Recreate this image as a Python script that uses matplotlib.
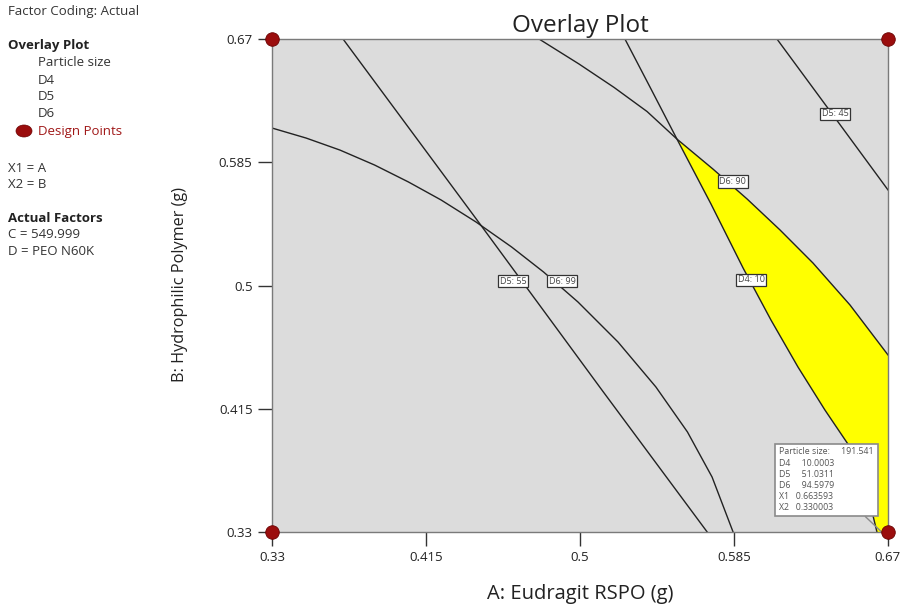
import matplotlib
matplotlib.use("Agg")
import matplotlib.pyplot as plt
from matplotlib.patches import Polygon, Ellipse

plt.rcParams.update({
    "font.family": ["Open Sans", "DejaVu Sans"],
})

# ── Data ────────────────────────────────────────────────────────────────────
X_TICKS = [0.33, 0.415, 0.5, 0.585, 0.67]
Y_TICKS = [0.33, 0.415, 0.5, 0.585, 0.67]
TICK_LABELS = ["0.33", "0.415", "0.5", "0.585", "0.67"]

# contour lines, A (x) and B (y) values
D5_55_X = [0.3692, 0.4448, 0.5121, 0.5702]
D5_55_Y = [0.6700, 0.5424, 0.4279, 0.3300]

D6_99_X = [0.3300, 0.3488, 0.3675, 0.3866, 0.4053, 0.4233, 0.4426, 0.4622, 0.4799,
           0.4989, 0.5210, 0.5419, 0.5593, 0.5729, 0.5845]
D6_99_Y = [0.6086, 0.6017, 0.5934, 0.5831, 0.5714, 0.5590, 0.5438, 0.5266, 0.5093,
           0.4886, 0.4610, 0.4300, 0.3990, 0.3679, 0.3300]

D6_90_X = [0.4774, 0.4994, 0.5188, 0.5370, 0.5535, 0.5734, 0.5922, 0.6104, 0.6286, 0.6490, 0.6700]
D6_90_Y = [0.6700, 0.6528, 0.6366, 0.6200, 0.6010, 0.5803, 0.5597, 0.5383, 0.5155, 0.4866, 0.4521]

D4_10_X = [0.5248, 0.5392, 0.5535, 0.5723, 0.5900, 0.6054, 0.6203, 0.6352, 0.6490, 0.6579, 0.6639]
D4_10_Y = [0.6700, 0.6355, 0.6010, 0.5562, 0.5121, 0.4762, 0.4438, 0.4141, 0.3886, 0.3610, 0.3300]

D5_45_X = [0.6087, 0.6396, 0.6700]
D5_45_Y = [0.6700, 0.6176, 0.5659]

# contour labels
LABEL_TEXT = ["D5: 55", "D6: 99", "D4: 10", "D6: 90", "D5: 45"]
LABEL_X = [0.4630, 0.4901, 0.5944, 0.5844, 0.6408]
LABEL_Y = [0.5031, 0.5031, 0.5038, 0.5717, 0.6183]

# design points at the corners
DESIGN_X = [0.33, 0.33, 0.67, 0.67]
DESIGN_Y = [0.33, 0.67, 0.33, 0.67]

# flag
FLAG_X, FLAG_Y = 0.6665, 0.3300
FLAG_LINES = ["Particle size:     191.541", "D4     10.0003", "D5     51.0311",
              "D6     94.5979", "X1   0.663593", "X2   0.330003"]

W, H = 907, 606
fig = plt.figure(figsize=(W / 100, H / 100), dpi=100, facecolor="white")

def fx(px):
    return px / W

def fy(py):
    return 1 - py / H

ax = fig.add_axes([fx(272), fy(532), fx(888) - fx(272), fy(39) - fy(532)])
ax.set_facecolor("#dcdcdc")
ax.set_xlim(0.33, 0.67)
ax.set_ylim(0.33, 0.67)

# feasible (yellow) region: below D6=90, right of D4=10
poly = list(zip(D4_10_X[2:], D4_10_Y[2:]))
poly += [(0.67, 0.33), (0.67, D6_90_Y[-1])]
poly += list(zip(D6_90_X[-2:4:-1], D6_90_Y[-2:4:-1]))
ax.add_patch(Polygon(poly, closed=True, facecolor="#ffff00", edgecolor="none", zorder=1))

for xs, ys in [(D5_55_X, D5_55_Y), (D6_99_X, D6_99_Y), (D6_90_X, D6_90_Y),
               (D4_10_X, D4_10_Y), (D5_45_X, D5_45_Y)]:
    ax.plot(xs, ys, color="#222222", linewidth=1.0, zorder=2,
            solid_joinstyle="round")

for t, x, y in zip(LABEL_TEXT, LABEL_X, LABEL_Y):
    ax.text(x, y, t, fontsize=6.5, ha="center", va="center", color="#444444", zorder=4,
            bbox=dict(boxstyle="square,pad=0.2", facecolor="white", edgecolor="#333333",
                      linewidth=0.9))

ax.scatter(DESIGN_X, DESIGN_Y, s=95, color="#9b0d0d", edgecolor="#6a0000",
           linewidth=0.6, zorder=6, clip_on=False)

# flag box
ax.annotate("\n".join(FLAG_LINES), xy=(FLAG_X, FLAG_Y), xytext=(0.6099, 0.3438),
            textcoords="data", fontsize=6.3, color="#555555", ha="left", va="bottom",
            linespacing=1.3, zorder=5,
            bbox=dict(boxstyle="square,pad=0.45", facecolor="white", edgecolor="#8a8a8a",
                      linewidth=1.2),
            arrowprops=dict(arrowstyle="-", color="#8a8a8a", linewidth=1.0,
                            shrinkA=0, shrinkB=0))

ax.set_xticks(X_TICKS)
ax.set_xticklabels(TICK_LABELS)
ax.set_yticks(Y_TICKS)
ax.set_yticklabels(TICK_LABELS)
ax.tick_params(axis="both", length=10, width=1.0, color="#333333", labelsize=9.5,
               labelcolor="#222222", pad=4, direction="out")
for s in ax.spines.values():
    s.set_color("#7a7a7a")
    s.set_linewidth(1.0)

ax.set_title("Overlay Plot", fontsize=17.5, color="#222222", pad=5)
fig.text(fx(580), fy(594), "A: Eudragit RSPO (g)", fontsize=14.5, ha="center", va="center",
         color="#222222")
fig.text(fx(180), fy(285), "B: Hydrophilic Polymer (g)", fontsize=11.7, ha="center",
         va="center", rotation=90, color="#222222")

# side panel
side = [
    (8, 12, "Factor Coding: Actual", "normal", "#333333"),
    (8, 46, "Overlay Plot", "bold", "#222222"),
    (38, 63, "Particle size", "normal", "#333333"),
    (38, 80, "D4", "normal", "#333333"),
    (38, 97, "D5", "normal", "#333333"),
    (38, 114, "D6", "normal", "#333333"),
    (38, 131, "Design Points", "normal", "#a01818"),
    (8, 168, "X1 = A", "normal", "#333333"),
    (8, 185, "X2 = B", "normal", "#333333"),
    (8, 218, "Actual Factors", "bold", "#222222"),
    (8, 235, "C = 549.999", "normal", "#333333"),
    (8, 252, "D = PEO N60K", "normal", "#333333"),
]
for px, py, t, wt, c in side:
    fig.text(fx(px), fy(py), t, fontsize=9.5, fontweight=wt, color=c, ha="left", va="center")
fig.patches.append(Ellipse((fx(24), fy(131)), 16 / W, 12 / H, transform=fig.transFigure,
                           facecolor="#9b0d0d", edgecolor="#6a0000", linewidth=0.5))

fig.savefig("out.png", dpi=100, facecolor="white")
